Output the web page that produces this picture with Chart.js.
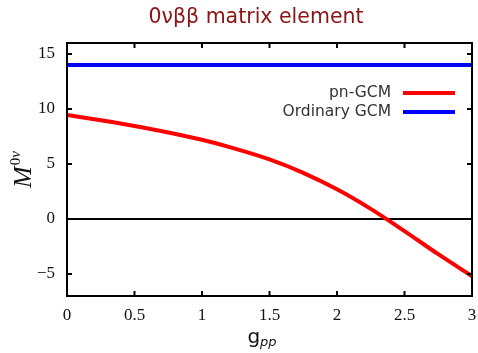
<!DOCTYPE html>
<html>
<head>
<meta charset="utf-8">
<script src="https://cdn.jsdelivr.net/npm/chart.js@4"></script>
<style>
  html, body { margin: 0; padding: 0; background: #fff; }
  #wrap { width: 478px; height: 353px; }
</style>
</head>
<body>
<div id="wrap"><canvas id="matrixChart" width="478" height="353"></canvas></div>
<script>
const gpp = [0, 0.25, 0.5, 0.75, 1, 1.25, 1.5, 1.75, 2, 2.25, 2.5, 2.75, 3];
const pnGcm = [9.45, 8.97, 8.45, 7.87, 7.2, 6.38, 5.42, 4.2, 2.7, 0.92, -1.1, -3.2, -5.2];
const ordinaryGcm = [14, 14, 14, 14, 14, 14, 14, 14, 14, 14, 14, 14, 14];
const xTicks = [0, 0.5, 1, 1.5, 2, 2.5, 3];
const yTicks = [-5, 0, 5, 10, 15];
const seriesLabels = ["pn-GCM", "Ordinary GCM"];
const seriesColors = ["#ff0000", "#0000ff"];
const titleText = "0νββ matrix element";

const sansFont = "'DejaVu Sans', sans-serif";
const serifFont = "'Liberation Serif', serif";

// frame, inward ticks, title, axis labels and legend (gnuplot look)
const decorations = {
  id: "decorations",
  afterDraw(chart) {
    const { ctx, chartArea: a, scales } = chart;
    const x = scales.x, y = scales.y;
    ctx.save();

    ctx.strokeStyle = "#000";
    ctx.lineWidth = 2;
    ctx.strokeRect(a.left, a.top, a.right - a.left, a.bottom - a.top);
    ctx.beginPath();
    x.ticks.forEach((t) => {
      const px = x.getPixelForValue(t.value);
      ctx.moveTo(px, a.bottom); ctx.lineTo(px, a.bottom - 5);
      ctx.moveTo(px, a.top); ctx.lineTo(px, a.top + 5);
    });
    y.ticks.forEach((t) => {
      const py = y.getPixelForValue(t.value);
      ctx.moveTo(a.left, py); ctx.lineTo(a.left + 5, py);
      ctx.moveTo(a.right, py); ctx.lineTo(a.right - 5, py);
    });
    ctx.stroke();

    // title
    ctx.fillStyle = "#8b1414";
    ctx.font = "20.5px " + sansFont;
    ctx.textAlign = "center";
    ctx.textBaseline = "middle";
    ctx.fillText(titleText, 256, 18);

    // x axis label g_pp
    ctx.fillStyle = "#111";
    ctx.textAlign = "left";
    ctx.textBaseline = "alphabetic";
    ctx.font = "20px " + sansFont;
    const gW = ctx.measureText("g").width;
    ctx.font = "oblique 13px " + sansFont;
    const ppW = ctx.measureText("pp").width;
    const gx = 262 - (gW + ppW) / 2;
    ctx.font = "20px " + sansFont;
    ctx.fillText("g", gx, 343);
    ctx.font = "oblique 13px " + sansFont;
    ctx.fillText("pp", gx + gW, 346);

    // y axis label M^{0nu}
    ctx.save();
    ctx.translate(31, 170);
    ctx.rotate(-Math.PI / 2);
    ctx.font = "italic 26px " + serifFont;
    const mW = ctx.measureText("M").width;
    ctx.font = "italic 15px " + serifFont;
    const supW = ctx.measureText("0ν").width;
    const sx = -(mW + supW) / 2;
    ctx.font = "italic 26px " + serifFont;
    ctx.fillText("M", sx, 0);
    ctx.font = "15px " + serifFont;
    ctx.fillText("0", sx + mW + 1, -11);
    const zW = ctx.measureText("0").width;
    ctx.font = "italic 15px " + serifFont;
    ctx.fillText("ν", sx + mW + 1 + zW, -11);
    ctx.restore();

    // legend, text on the left of the line sample
    ctx.font = "15.5px " + sansFont;
    ctx.textAlign = "right";
    ctx.textBaseline = "middle";
    seriesLabels.forEach((lab, i) => {
      const ly = 93 + i * 19;
      ctx.fillStyle = "#333";
      ctx.fillText(lab, 391, ly);
      ctx.strokeStyle = seriesColors[i];
      ctx.lineWidth = 4;
      ctx.beginPath();
      ctx.moveTo(403, ly);
      ctx.lineTo(455, ly);
      ctx.stroke();
    });

    ctx.restore();
  },
};

const fmtTick = (v) => (v < 0 ? "\u2212" + Math.abs(v) : String(v));

new Chart(document.getElementById("matrixChart"), {
  type: "line",
  data: {
    datasets: [
      {
        label: seriesLabels[0],
        data: gpp.map((g, i) => ({ x: g, y: pnGcm[i] })),
        borderColor: seriesColors[0],
        borderWidth: 4,
        pointRadius: 0,
        cubicInterpolationMode: "monotone",
      },
      {
        label: seriesLabels[1],
        data: gpp.map((g, i) => ({ x: g, y: ordinaryGcm[i] })),
        borderColor: seriesColors[1],
        borderWidth: 4,
        pointRadius: 0,
      },
    ],
  },
  options: {
    responsive: false,
    animation: false,
    layout: { padding: { top: 43, right: 6, left: 0, bottom: 0 } },
    plugins: { legend: { display: false }, title: { display: false }, tooltip: { enabled: false } },
    scales: {
      x: {
        type: "linear",
        min: 0,
        max: 3,
        afterBuildTicks: (s) => { s.ticks = xTicks.map((v) => ({ value: v })); },
        afterFit: (s) => { s.height = 57; s.paddingLeft = 0; s.paddingRight = 0; },
        grid: { display: false },
        border: { display: false },
        ticks: {
          color: "#111",
          font: { family: serifFont, size: 17 },
          padding: 1,
          maxRotation: 0,
          callback: fmtTick,
        },
      },
      y: {
        min: -7,
        max: 16,
        afterBuildTicks: (s) => { s.ticks = yTicks.map((v) => ({ value: v })); },
        afterFit: (s) => { s.width = 67; s.paddingTop = 0; s.paddingBottom = 0; },
        grid: {
          drawTicks: false,
          lineWidth: 2,
          color: (c) => (c.tick && c.tick.value === 0 ? "#000" : "rgba(0,0,0,0)"),
        },
        border: { display: false },
        ticks: {
          color: "#111",
          font: { family: serifFont, size: 17 },
          padding: 12,
          callback: fmtTick,
        },
      },
    },
  },
  plugins: [decorations],
});
</script>
</body>
</html>
